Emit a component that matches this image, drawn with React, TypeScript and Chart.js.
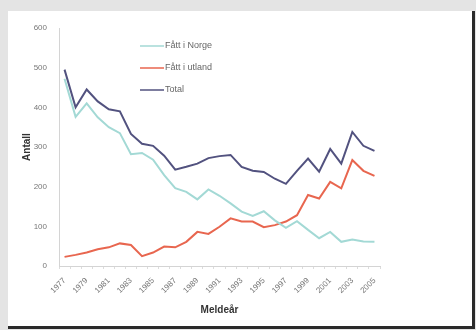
import React, { useEffect, useRef } from "react";
import { Chart, registerables } from "chart.js";

Chart.register(...registerables);

const years = ["1977","1978","1979","1980","1981","1982","1983","1984","1985","1986","1987","1988","1989","1990","1991","1992","1993","1994","1995","1996","1997","1998","1999","2000","2001","2002","2003","2004","2005"];
const faattINorge = [472, 376, 410, 375, 350, 335, 282, 285, 268, 229, 196, 187, 168, 193, 177, 158, 137, 126, 138, 115, 96, 113, 91, 70, 86, 61, 67, 62, 61];
const faattIUtland = [23, 28, 34, 42, 47, 57, 53, 25, 34, 49, 47, 61, 86, 81, 99, 120, 112, 112, 98, 103, 112, 128, 179, 170, 212, 196, 267, 240, 227];
const total = [495, 400, 445, 415, 395, 390, 333, 308, 303, 278, 243, 250, 258, 272, 277, 280, 250, 240, 237, 220, 207, 240, 271, 238, 295, 258, 338, 303, 290];
const seriesNames = ["Fått i Norge", "Fått i utland", "Total"];
const yTicks = [0, 100, 200, 300, 400, 500, 600];

const FONT = "'Liberation Sans', Arial, sans-serif";

const legendPlugin = {
  id: "innerLegend",
  afterDatasetsDraw(chart: any) {
    const ctx = chart.ctx;
    const x0 = 132;
    const rows = [35, 57, 79];
    ctx.save();
    chart.data.datasets.forEach((ds: any, i: number) => {
      const y = rows[i];
      ctx.strokeStyle = ds.borderColor;
      ctx.lineWidth = 1.5;
      ctx.beginPath();
      ctx.moveTo(x0, y);
      ctx.lineTo(x0 + 24, y);
      ctx.stroke();
      ctx.fillStyle = "#666";
      ctx.font = `9px ${FONT}`;
      ctx.textBaseline = "middle";
      ctx.textAlign = "left";
      ctx.fillText(ds.label, x0 + 25, y);
    });
    ctx.restore();
  },
};

export default function App() {
  const ref = useRef<HTMLCanvasElement>(null);
  useEffect(() => {
    if (!ref.current) return;
    const chart = new Chart(ref.current, {
      type: "line",
      data: {
        labels: years,
        datasets: [
          { label: seriesNames[0], data: faattINorge, borderColor: "#a3d9d5", borderWidth: 2, pointRadius: 0, tension: 0 },
          { label: seriesNames[1], data: faattIUtland, borderColor: "#e8664f", borderWidth: 2, pointRadius: 0, tension: 0 },
          { label: seriesNames[2], data: total, borderColor: "#52527f", borderWidth: 2, pointRadius: 0, tension: 0 },
        ],
      },
      options: {
        animation: false,
        responsive: false,
        maintainAspectRatio: false,
        layout: { padding: { left: 0, top: 17, right: 92, bottom: 0 } },
        plugins: { legend: { display: false }, tooltip: { enabled: false } },
        scales: {
          x: {
            type: "category",
            offset: true,
            border: { color: "#d4d4d4", width: 1 },
            grid: { display: true, drawOnChartArea: false, offset: true, color: "#dcdcdc", tickLength: 3 },
            ticks: {
              autoSkip: false,
              maxRotation: 45,
              minRotation: 45,
              padding: 7,
              color: "#777",
              font: { family: FONT, size: 8 },
              callback: (_v: any, i: number) => (i % 2 === 0 ? years[i] : ""),
            },
            title: { display: true, text: "Meldeår", color: "#333", font: { family: FONT, size: 10, weight: "bold" }, padding: { top: 0, bottom: 10 } },
            afterFit: (s: any) => { s.height = 60; },
          },
          y: {
            min: 0,
            max: 600,
            border: { color: "#d4d4d4", width: 1 },
            grid: { display: true, drawOnChartArea: false, drawTicks: false, color: "#d4d4d4" },
            afterBuildTicks: (s: any) => { s.ticks = yTicks.map((v) => ({ value: v })); },
            ticks: { padding: 12, color: "#777", font: { family: FONT, size: 8 } },
            title: { display: true, text: "Antall", color: "#333", font: { family: FONT, size: 10, weight: "bold" }, padding: { top: 13, bottom: 0 } },
            afterFit: (s: any) => { s.width = 51; },
          },
        },
      },
      plugins: [legendPlugin],
    } as any);
    return () => chart.destroy();
  }, []);
  return (
    <div style={{ position: "fixed", left: 0, top: 0, width: 476, height: 330, background: "#e4e4e4" }}>
      <div style={{ position: "absolute", left: 8, top: 11, width: 464, height: 315, background: "#fff", borderRight: "3px solid #2a2a2a", borderBottom: "3px solid #2a2a2a" }}>
        <canvas ref={ref} width={464} height={315} style={{ display: "block", width: 464, height: 315 }} />
      </div>
    </div>
  );
}
